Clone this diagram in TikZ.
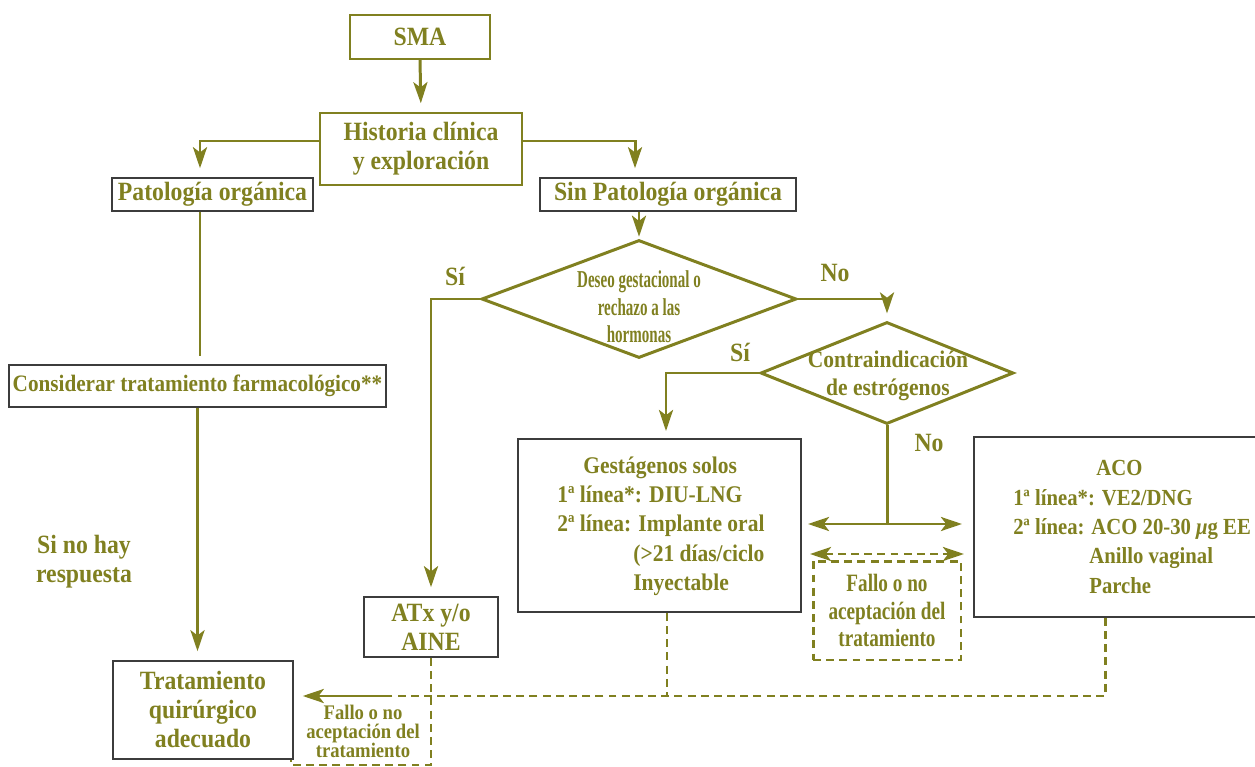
\documentclass[tikz,border=0pt]{standalone}
\usepackage{fontspec}
\setmainfont{Liberation Serif}[FakeStretch=0.9]
\newfontfamily\condA{Liberation Serif}[FakeStretch=0.62]
\newfontfamily\condB{Liberation Serif}[FakeStretch=0.77]
\usetikzlibrary{shapes.geometric,arrows.meta}
\definecolor{olv}{RGB}{128,128,32}
\definecolor{dk}{RGB}{60,60,60}
\tikzset{
  txt/.style={text=olv, font=\bfseries\fontsize{15}{16.5}\selectfont, align=center, inner sep=0pt},
  sml/.style={text=olv, font=\bfseries\fontsize{13.6}{16.7}\selectfont, align=left, inner sep=0pt},
  obox/.style={draw=olv, line width=1.1pt, fill=white, inner sep=0pt},
  kbox/.style={draw=dk, line width=1.1pt, fill=white, inner sep=0pt},
  conn/.style={draw=olv, line width=1.7pt},
  tip/.tip={Stealth[length=12pt,width=8pt,inset=3pt]},
  arr/.style={conn, -tip, shorten >=5pt},
  darr/.style={conn, tip-tip},
  dsh/.style={conn, dash pattern=on 4.5pt off 3pt},
  dmd/.style={diamond, draw=olv, line width=1.7pt, inner sep=0pt},
}
\begin{document}
\begin{tikzpicture}[x=0.02cm, y=-0.02cm]
\useasboundingbox (0,0) rectangle (1255,767);

% boxes
\node[obox, txt, minimum width=2.8cm, minimum height=0.88cm] (sma) at (420,37) {SMA};
\node[obox, txt, minimum width=4.04cm, minimum height=1.44cm] (hist) at (421,149) {Historia clínica\\y exploración};
\node[kbox, txt, minimum width=4.02cm, minimum height=0.66cm] (pat) at (212.5,194.5) {Patología orgánica};
\node[kbox, txt, minimum width=5.12cm, minimum height=0.66cm] (sin) at (668,194.5) {Sin Patología orgánica};
\node[kbox, txt, font=\bfseries\fontsize{13.4}{16}\selectfont, minimum width=7.54cm, minimum height=0.84cm] (cons) at (197.5,386) {Considerar tratamiento farmacológico**};

\node[dmd, minimum width=6.3cm, minimum height=2.36cm] (d1) at (639,299) {};
\node[txt, font=\condA\bfseries\fontsize{13.8}{15.6}\selectfont] (d1t) at (639,307) {Deseo gestacional o\\rechazo a las\\hormonas};
\node[dmd, minimum width=5.06cm, minimum height=2.04cm] (d2) at (887,373) {};
\node[txt, font=\bfseries\fontsize{13.6}{16}\selectfont] (d2t) at (888,376) {Contraindicación\\de estrógenos};

\node[kbox, minimum width=5.66cm, minimum height=3.46cm] (gest) at (659.5,525.5) {};
\node[sml, anchor=west] (gestt) at (557,526)
 {\hspace*{0.52cm}Gestágenos solos\\1ª línea*: DIU-LNG\\2ª línea: Implante oral\\\hspace*{1.52cm}(>21 días/ciclo\\\hspace*{1.52cm}Inyectable};
\node[kbox, minimum width=5.76cm, minimum height=3.6cm] (aco) at (1118,527) {};
\node[sml, anchor=west, font=\bfseries\fontsize{13.1}{16.7}\selectfont] (acot) at (1013,527)
 {\hspace*{1.66cm}ACO\\1ª línea*: VE2/DNG\\2ª línea: ACO 20-30 {\itshape μ}g EE\\\hspace*{1.52cm}Anillo vaginal\\\hspace*{1.52cm}Parche};

\node[kbox, txt, minimum width=2.68cm, minimum height=1.2cm] (atx) at (431,627) {ATx y/o\\AINE};
\node[dsh, txt, fill=white, font=\condB\bfseries\fontsize{14.2}{15.9}\selectfont, minimum width=2.96cm, minimum height=1.98cm] (fmid) at (887,610.5) {Fallo o no\\aceptación del\\tratamiento};

% labels
\node[txt] (si1) at (455,276) {Sí};
\node[txt] (no1) at (835,273) {No};
\node[txt] (si2) at (740,352) {Sí};
\node[txt] (no2) at (929,443) {No};
\node[txt] (resp) at (84,562) {Si no hay\\respuesta};

% bottom-left dashed fallo box (partly hidden)
\coordinate (fb1) at (431,765);
\coordinate (fb2) at (291,765);
\draw[dsh] (atx.south) -- (fb1) -- (fb2) -- (291,755);
\node[txt, font=\bfseries\fontsize{11.8}{10.8}\selectfont] (fbot) at (363,731) {Fallo o no\\aceptación del\\tratamiento};

\node[kbox, txt, minimum width=3.6cm, minimum height=1.96cm] (trat) at (203,710) {Tratamiento\\quirúrgico\\adecuado};

% connectors
\draw[arr] (sma.south) -- (hist.north);
\draw[arr] ([yshift=0.16cm]hist.west) -| ([xshift=-0.25cm]pat.north);
\draw[arr] ([yshift=0.16cm]hist.east) -| ([xshift=-0.66cm]sin.north);
\draw[arr, shorten >=1pt] (d1.north |- sin.south) -- (d1.north);
\draw[conn, shorten >=4.5pt] ([xshift=-0.25cm]pat.south) -- ([xshift=-0.25cm]pat.south |- cons.north);
\draw[arr] (cons.south) -- (cons.south |- trat.north);
\draw[arr] (d1.west) -| (atx.north);
\draw[arr, shorten >=4pt] (d1.east) -| (d2.north);
\draw[arr, shorten >=4pt] (d2.west) -| ([xshift=0.13cm]gest.north);

\coordinate (jl) at (808,524);
\coordinate (jr) at (962,524);
\draw[conn] (d2.south) -- (d2.south |- jl);
\draw[darr] (jl) -- (jr);
\coordinate (kl) at (810,554);
\coordinate (kr) at (964,554);
\draw[darr, dash pattern=on 4.5pt off 3pt] (kl) -- (kr);

\coordinate (m) at (385,696);
\draw[dsh] ([xshift=-0.26cm]aco.south) |- (m);
\draw[dsh] ([xshift=0.15cm]gest.south) -- ([xshift=0.15cm]gest.south |- m);
\draw[arr] (m) -- (trat.east |- m);
\end{tikzpicture}
\end{document}
